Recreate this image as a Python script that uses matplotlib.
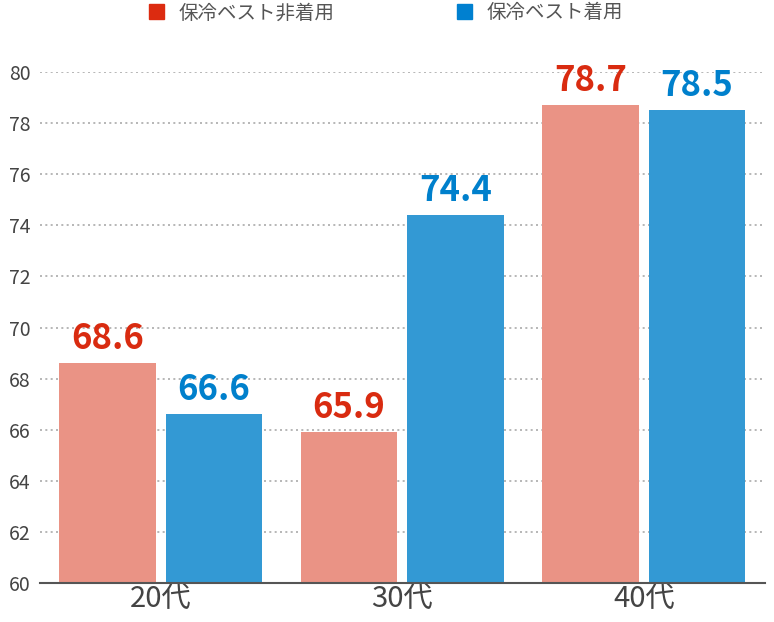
import matplotlib
matplotlib.use('Agg')
import matplotlib.pyplot as plt
from matplotlib.patches import Patch
import numpy as np

plt.rcParams['font.family'] = ['Noto Sans CJK JP', 'DejaVu Sans']

# データ
categories = ['20代', '30代', '40代']
series_names = ['保冷ベスト非着用', '保冷ベスト着用']
no_vest = [68.6, 65.9, 78.7]
with_vest = [66.6, 74.4, 78.5]
y_ticks = [60, 62, 64, 66, 68, 70, 72, 74, 76, 78, 80]

bar_colors = ['#EA9385', '#3399D4']
label_colors = ['#D92B10', '#0080CC']
legend_colors = ['#DC2B10', '#0080D0']

fig = plt.figure(figsize=(7.74, 6.22), dpi=100)
ax = fig.add_axes([40 / 774, 39 / 622, 724.5 / 774, 511 / 622])

x = np.arange(len(categories))
offset = 0.22
width = 0.40

for i, vals in enumerate([no_vest, with_vest]):
    pos = x - offset if i == 0 else x + offset
    bars = ax.bar(pos, [v - 60 for v in vals], width, bottom=60,
                  color=bar_colors[i], zorder=3)
    for b, v in zip(bars, vals):
        ax.annotate(f'{v:.1f}', (b.get_x() + b.get_width() / 2, v),
                    xytext=(0, 5), textcoords='offset points',
                    ha='center', va='bottom', fontsize=25, fontweight='bold',
                    color=label_colors[i], annotation_clip=False)

ax.set_xlim(-0.5, 2.5)
ax.set_ylim(60, 80)
ax.set_yticks(y_ticks)
ax.set_xticks(x)
ax.set_xticklabels(categories, fontsize=21, color='#444444')
ax.tick_params(axis='y', labelsize=14, colors='#444444', length=0, pad=7)
ax.tick_params(axis='x', length=0, pad=1)

ax.yaxis.grid(True, linestyle=(0, (1.2, 2)), color='#AAAAAA', linewidth=1.2, zorder=0)
ax.set_axisbelow(True)
for s in ['top', 'right', 'left']:
    ax.spines[s].set_visible(False)
ax.spines['bottom'].set_color('#555555')
ax.spines['bottom'].set_linewidth(1.5)
ax.spines['bottom'].set_zorder(4)

handles = [Patch(color=c) for c in legend_colors]
leg = fig.legend(handles, series_names, loc='center', bbox_to_anchor=(386 / 774, 1 - 13 / 622),
                 ncol=2, frameon=False, fontsize=14, handlelength=0.78, handleheight=0.78,
                 handletextpad=0.75, columnspacing=6.3, labelcolor='#555555')

fig.savefig('out.png', dpi=100)
